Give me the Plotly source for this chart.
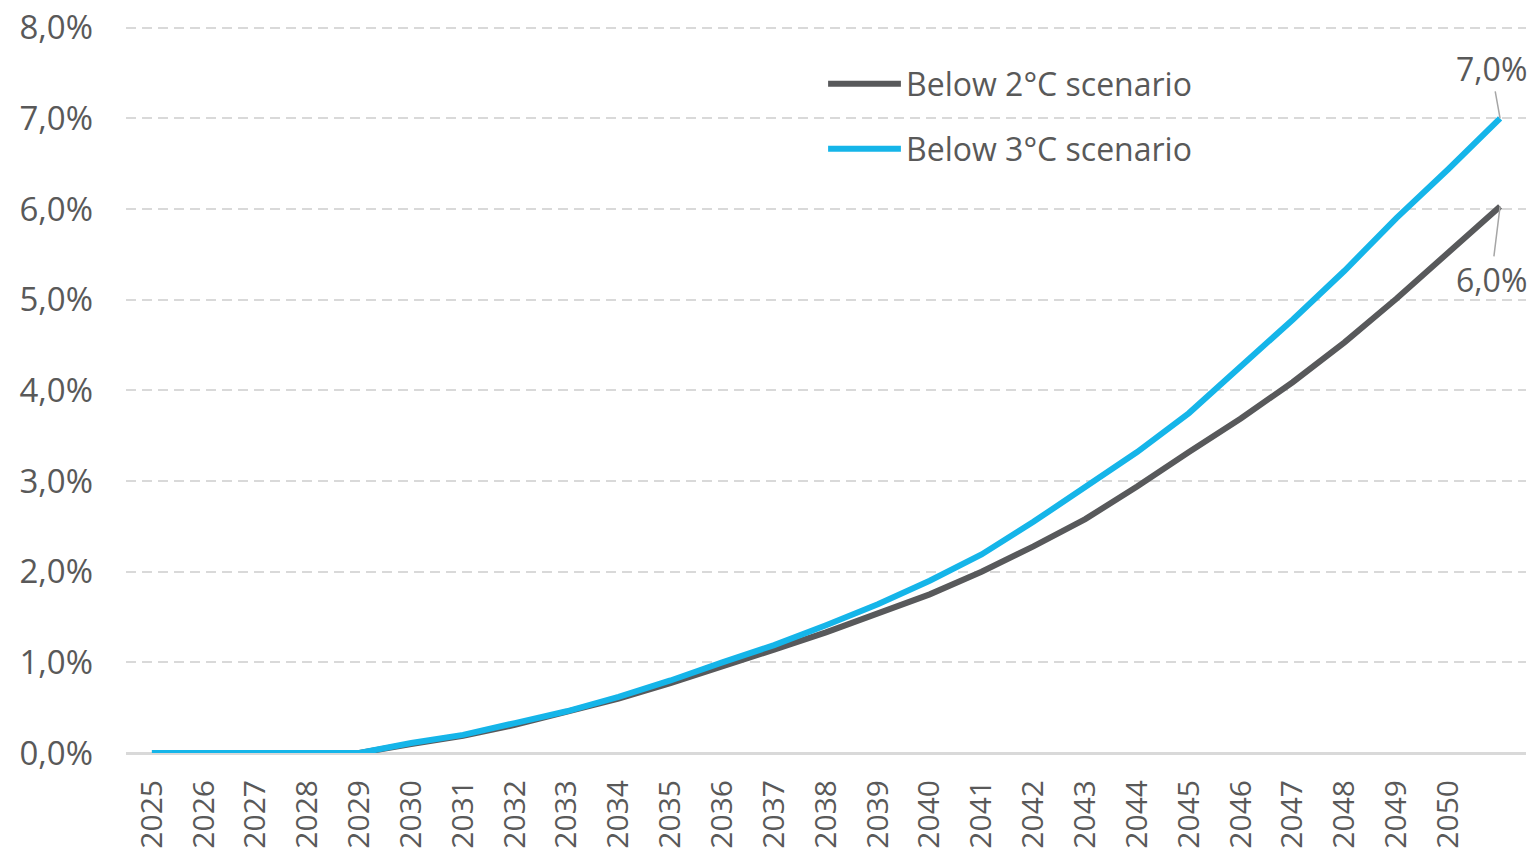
import plotly.graph_objects as go

years = list(range(2025, 2052))
tick_years = list(range(2025, 2051))
tick_labels = [str(y) for y in tick_years]
y_ticks = [0, 1, 2, 3, 4, 5, 6, 7, 8]
y_tick_labels = ["0,0%", "1,0%", "2,0%", "3,0%", "4,0%", "5,0%", "6,0%", "7,0%", "8,0%"]

below_2c = [0, 0, 0, 0, 0, 0.10, 0.19, 0.31, 0.45, 0.60, 0.77, 0.95, 1.14, 1.33, 1.54,
            1.75, 2.00, 2.28, 2.58, 2.94, 3.32, 3.69, 4.09, 4.53, 5.01, 5.52, 6.03]
below_3c = [0, 0, 0, 0, 0, 0.11, 0.20, 0.33, 0.46, 0.62, 0.80, 1.00, 1.19, 1.41, 1.64,
            1.90, 2.19, 2.55, 2.93, 3.32, 3.75, 4.26, 4.78, 5.32, 5.90, 6.44, 7.00]

names = ["Below 2°C scenario", "Below 3°C scenario"]
colors = ["#58595B", "#15B5E9"]
series = [below_2c, below_3c]
end_labels = ["6,0%", "7,0%"]

FONT = "Open Sans"
TXT = "#595959"

fig = go.Figure()
for name, vals, col in zip(names, series, colors):
    fig.add_trace(go.Scatter(x=years, y=vals, mode="lines", name=name,
                             line=dict(color=col, width=6), showlegend=False,
                             cliponaxis=False))

# end labels with leader lines
fig.add_annotation(x=years[-1], y=below_3c[-1], text=end_labels[1], showarrow=True,
                   arrowhead=0, arrowwidth=1.5, arrowcolor="#A6A6A6", ax=-9, ay=-50,
                   standoff=0, font=dict(family=FONT, size=32, color=TXT))
fig.add_annotation(x=years[-1], y=below_2c[-1], text=end_labels[0], showarrow=True,
                   arrowhead=0, arrowwidth=1.5, arrowcolor="#A6A6A6", ax=-9, ay=73,
                   standoff=0, font=dict(family=FONT, size=32, color=TXT))

# custom legend
leg_y = [0.9205, 0.831]
for name, col, yy in zip(names, colors, leg_y):
    fig.add_shape(type="line", xref="paper", yref="paper", x0=0.5015, x1=0.5535,
                  y0=yy, y1=yy, line=dict(color=col, width=6))
    fig.add_annotation(xref="paper", yref="paper", x=0.5555, y=yy, text=name,
                       showarrow=False, xanchor="left", yanchor="middle",
                       font=dict(family=FONT, size=32, color=TXT))

fig.update_layout(
    width=1534, height=852,
    margin=dict(l=126, r=8, t=26, b=99, autoexpand=False),
    paper_bgcolor="white", plot_bgcolor="white",
    font=dict(family=FONT, size=32, color=TXT),
    xaxis=dict(range=[2024.5, 2051.5], tickmode="array", tickvals=tick_years,
               ticktext=tick_labels, tickangle=-90, showgrid=False, zeroline=False,
               showline=False, ticks="", ticklabelstandoff=20, automargin=False,
               tickfont=dict(family=FONT, size=30, color=TXT)),
    yaxis=dict(range=[0, 8.02], tickmode="array", tickvals=y_ticks,
               ticktext=y_tick_labels,
               showgrid=True, gridcolor="#D9D9D9", gridwidth=2, griddash="10px,6px",
               zeroline=True, zerolinecolor="#D9D9D9", zerolinewidth=2.5,
               showline=False, ticks="", ticklabelstandoff=32, automargin=False,
               tickfont=dict(family=FONT, size=33, color=TXT)),
)

fig.write_html("out.html", config={"displayModeBar": False},
               post_script="document.body.style.margin='0';")
